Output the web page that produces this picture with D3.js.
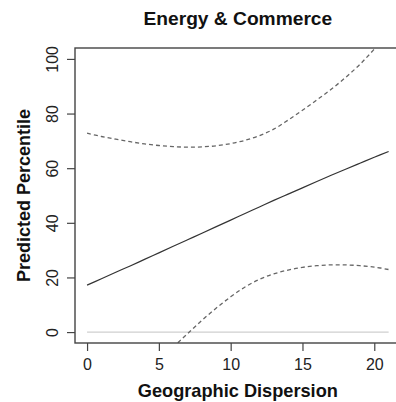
<!DOCTYPE html>
<html>
<head>
<meta charset="utf-8">
<script src="https://cdn.jsdelivr.net/npm/d3@7"></script>
<style>
  html, body { margin: 0; padding: 0; background: #fff; overflow: hidden; }
  svg { display: block; font-family: "Liberation Sans", Arial, Helvetica, sans-serif; }
</style>
</head>
<body>
<svg id="chart" width="396" height="402"></svg>
<script>
// Geographic dispersion values at which predictions are evaluated
const dispersion = [0, 1, 2, 3, 4, 5, 6, 7, 8, 9, 10, 11, 12, 13, 14, 15, 16, 17, 18, 19, 20, 21];

// Predicted percentile (fitted line)
const fitted = [17.2, 19.5, 21.9, 24.2, 26.6, 29.0, 31.4, 33.8, 36.2, 38.6, 41.0,
                 43.4, 45.8, 48.2, 50.5, 52.8, 55.1, 57.4, 59.6, 61.8, 64.0, 66.1];

// Upper confidence bound
const upperBound = [72.8, 71.6, 70.6, 69.7, 68.9, 68.3, 67.9, 67.7, 67.8, 68.2, 69.0,
                    70.2, 71.9, 74.3, 77.6, 81.2, 85.0, 88.9, 93.2, 98.0, 103.6, 109.6];

// Lower confidence bound (undefined where far below the plotted range)
const lowerBound = [null, null, null, null, null, -11.5, -5.6, -0.6, 4.3, 8.8, 12.9,
                    16.5, 19.3, 21.3, 22.7, 23.7, 24.3, 24.6, 24.6, 24.3, 23.8, 22.9];

const xTicks = [0, 5, 10, 15, 20];
const yTicks = [0, 20, 40, 60, 80, 100];

const titleText = "Energy & Commerce";
const xLabel = "Geographic Dispersion";
const yLabel = "Predicted Percentile";

const svg = d3.select("#chart");

// Plot region (axis ranges padded by 4% as in base R graphics)
const plotLeft = 75, plotTop = 48, plotBottom = 343, plotRight = 400.7;
const x = d3.scaleLinear().domain([-0.84, 21.84]).range([plotLeft, plotRight]);
const y = d3.scaleLinear().domain([-4, 104]).range([plotBottom, plotTop]);

svg.append("defs").append("clipPath").attr("id", "plotClip")
  .append("rect")
  .attr("x", plotLeft).attr("y", plotTop)
  .attr("width", plotRight - plotLeft).attr("height", plotBottom - plotTop);

const plot = svg.append("g").attr("clip-path", "url(#plotClip)");

// Reference line at zero
plot.append("line")
  .attr("x1", x(dispersion[0])).attr("x2", x(dispersion[dispersion.length - 1]))
  .attr("y1", y(0)).attr("y2", y(0))
  .attr("stroke", "#cfcfcf").attr("stroke-width", 1.2);

const lineGen = vals => d3.line()
  .defined((d, i) => vals[i] !== null)
  .x((d, i) => x(dispersion[i]))
  .y((d, i) => y(vals[i]))
  .curve(d3.curveCatmullRom.alpha(0.5))(dispersion);

plot.append("path")
  .attr("d", lineGen(upperBound))
  .attr("fill", "none").attr("stroke", "#666").attr("stroke-width", 1.3)
  .attr("stroke-dasharray", "4,3");

plot.append("path")
  .attr("d", lineGen(lowerBound))
  .attr("fill", "none").attr("stroke", "#666").attr("stroke-width", 1.3)
  .attr("stroke-dasharray", "4,3");

plot.append("path")
  .attr("d", lineGen(fitted))
  .attr("fill", "none").attr("stroke", "#333").attr("stroke-width", 1.2);

// Frame around the plot region
svg.append("rect")
  .attr("x", plotLeft).attr("y", plotTop)
  .attr("width", plotRight - plotLeft).attr("height", plotBottom - plotTop)
  .attr("fill", "none").attr("stroke", "#444").attr("stroke-width", 1.4);

// X axis
const xAxis = svg.append("g")
  .attr("transform", `translate(0,${plotBottom})`)
  .call(d3.axisBottom(x).tickValues(xTicks).tickSize(8).tickPadding(8).tickFormat(d3.format("d")));
xAxis.select(".domain").remove();
xAxis.selectAll(".tick line").attr("stroke", "#444").attr("stroke-width", 1.2);
xAxis.selectAll(".tick text")
  .attr("font-size", 16).attr("fill", "#222")
  .attr("font-family", "Liberation Sans, Arial, sans-serif");

// Y axis with labels parallel to the axis
const yAxis = svg.append("g")
  .attr("transform", `translate(${plotLeft},0)`)
  .call(d3.axisLeft(y).tickValues(yTicks).tickSize(8).tickFormat(d3.format("d")));
yAxis.select(".domain").remove();
yAxis.selectAll(".tick line").attr("stroke", "#444").attr("stroke-width", 1.2);
yAxis.selectAll(".tick text")
  .attr("font-size", 16).attr("fill", "#222")
  .attr("font-family", "Liberation Sans, Arial, sans-serif")
  .attr("x", 0).attr("dy", 0)
  .attr("text-anchor", "middle")
  .attr("transform", "translate(-17,0) rotate(-90)");

// Title and axis labels
svg.append("text")
  .attr("x", (plotLeft + plotRight) / 2).attr("y", 25)
  .attr("text-anchor", "middle")
  .attr("font-size", 19.2).attr("font-weight", "bold").attr("fill", "#111")
  .text(titleText);

svg.append("text")
  .attr("x", (plotLeft + plotRight) / 2).attr("y", 397)
  .attr("text-anchor", "middle")
  .attr("font-size", 18.2).attr("font-weight", "bold").attr("fill", "#111")
  .text(xLabel);

svg.append("text")
  .attr("transform", `translate(30,${(plotTop + plotBottom) / 2}) rotate(-90)`)
  .attr("text-anchor", "middle")
  .attr("font-size", 18).attr("font-weight", "bold").attr("fill", "#111")
  .text(yLabel);
</script>
</body>
</html>
